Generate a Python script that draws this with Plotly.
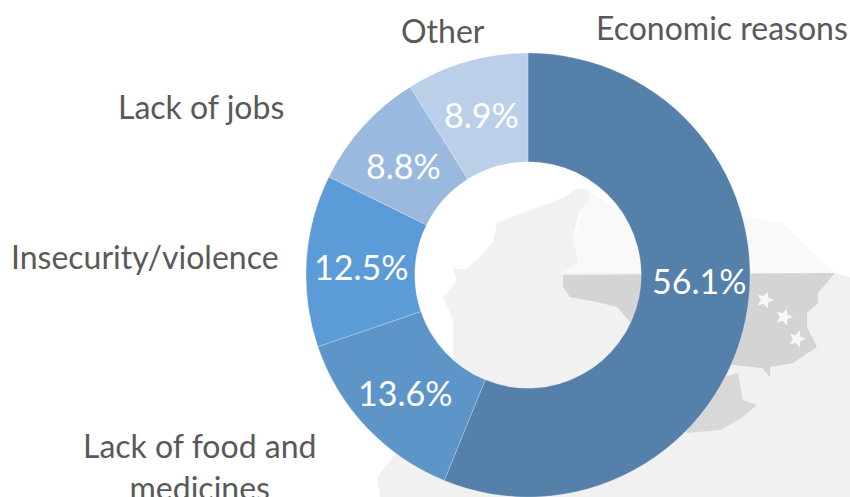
"""Reasons for leaving, donut chart over a faint map."""

import math

import plotly.graph_objects as go

W, H = 850, 497

labels = ["Economic reasons", "Lack of food and<br>medicines", "Insecurity/violence", "Lack of jobs", "Other"]
values = [56.1, 13.6, 12.5, 8.8, 8.9]
colors = ["#5580A9", "#5E95C8", "#5B9BD7", "#9AB9DF", "#BBCFE9"]

# text centres in window pixels
label_pos = [(722, 27), (199, 466), (145, 256), (201, 107), (443, 31)]
value_pos = [(699, 280), (405, 392), (361, 266), (403, 165), (481, 115)]

# faint map behind the chart, pixel outlines
MAP_FAINT = [(588, 190), (640, 225), (700, 205), (748, 217), (783, 223), (813, 253), (835, 273), (563, 275)]
MAP_LIGHT = [
    (588, 190), (577, 188), (563, 198), (530, 210), (497, 223), (493, 242), (480, 257),
    (465, 270), (453, 268), (457, 282), (443, 297), (453, 320), (453, 357), (420, 420),
    (393, 457), (377, 477), (380, 497), (850, 497), (850, 277), (835, 273), (563, 273),
    (578, 262), (573, 240), (578, 215), (590, 195),
]
MAP_DARK = [
    (563, 275), (835, 273), (818, 293), (818, 303), (807, 313), (807, 327), (817, 347),
    (793, 363), (770, 367), (770, 377), (762, 368), (733, 365), (680, 350), (630, 322),
    (617, 307), (597, 302), (570, 297), (563, 287),
]
MAP_DARK_SOUTH = [(738, 373), (743, 400), (757, 405), (743, 417), (720, 430), (687, 433), (680, 390)]
STARS = [(765, 300), (784, 317), (797, 339)]


def px_x(x):
    return x / W


def px_y(y):
    return 1 - y / H


def to_path(points):
    return "M" + " L".join(f"{px_x(x):.4f},{px_y(y):.4f}" for x, y in points) + " Z"


def star(cx, cy, r=9):
    pts = []
    for i in range(10):
        rad = r if i % 2 == 0 else r * 0.45
        a = math.pi * i / 5 + 0.3
        pts.append((cx + rad * math.sin(a), cy - rad * math.cos(a)))
    return pts


fig = go.Figure(go.Pie(
    labels=labels, values=values, hole=0.51, sort=False, direction="clockwise", rotation=0,
    marker=dict(colors=colors, line=dict(color="rgba(255,255,255,0.35)", width=0.6)),
    textinfo="none",
    domain=dict(x=[px_x(306), px_x(750)], y=[0, px_y(53)]),
    showlegend=False, hoverinfo="label+percent",
))

shapes = []
for outline, fill in [(MAP_FAINT, "#F9F9F9"), (MAP_LIGHT, "#F1F1F1"), (MAP_DARK, "#D4D4D4"), (MAP_DARK_SOUTH, "#D8D8D8")]:
    shapes.append(dict(type="path", xref="paper", yref="paper", path=to_path(outline),
                       fillcolor=fill, line_width=0, layer="below"))
for cx, cy in STARS:
    shapes.append(dict(type="path", xref="paper", yref="paper", path=to_path(star(cx, cy)),
                       fillcolor="#F8F8F8", line_width=0, layer="below"))

annotations = [
    dict(text=t, x=px_x(x), y=px_y(y), xref="paper", yref="paper", showarrow=False,
         xanchor="center", yanchor="middle", font=dict(family="Lato", size=32, color="#595959"))
    for t, (x, y) in zip(labels, label_pos)
]
annotations += [
    dict(text=f"{v:.1f}%", x=px_x(x), y=px_y(y), xref="paper", yref="paper", showarrow=False,
         xanchor="center", yanchor="middle", font=dict(family="Lato", size=34, color="white"))
    for v, (x, y) in zip(values, value_pos)
]

fig.update_layout(
    width=W, height=H, margin=dict(l=0, r=0, t=0, b=0),
    paper_bgcolor="white", shapes=shapes, annotations=annotations,
)
# drop the page's default body margin so the figure fills the window
fig.write_html("out.html", config=dict(displayModeBar=False),
               post_script="document.body.style.margin = '0';")
